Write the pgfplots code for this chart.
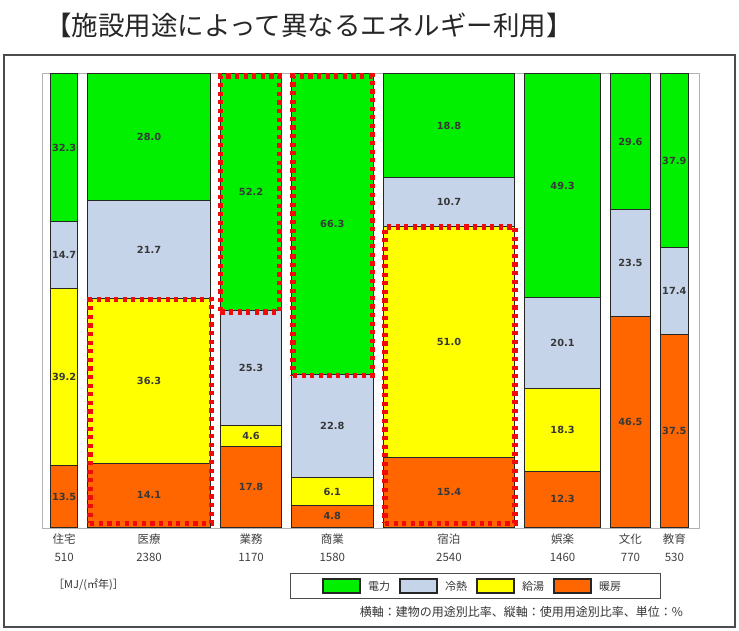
\documentclass[border=0pt]{standalone}
\usepackage{fontspec}
\setmainfont{Noto Sans CJK JP}
\newfontfamily\lblfont{DejaVu Sans}
\usepackage{pgfplots}
\pgfplotsset{compat=1.18}
\definecolor{cgreen}{RGB}{0,240,0}
\definecolor{cblue}{RGB}{198,212,234}
\definecolor{cyellow}{RGB}{255,255,0}
\definecolor{corange}{RGB}{255,102,0}
\definecolor{cred}{RGB}{240,10,10}
\newcommand{\seg}[5]{\addplot[fill=#1, draw=black!85, line width=1pt] coordinates {(#2,#4) (#3,#4) (#3,#5) (#2,#5)} -- cycle;}
\newcommand{\hl}[4]{\addplot[draw=cred, line width=5.5pt, line cap=butt, dash pattern=on 4.2pt off 4.4pt] coordinates {(#1,#3) (#2,#3) (#2,#4) (#1,#4)} -- cycle;}
\begin{document}
\begin{tikzpicture}[x=1pt,y=1pt]
\useasboundingbox (0,0) rectangle (739,-630);
\draw[gray!60!black, line width=1.3pt] (4,-55) rectangle (735,-627);
\node[font=\fontsize{26.5}{30}\selectfont, text=black!85] at (309,-25) {【施設用途によって異なるエネルギー利用】};
\begin{axis}[
  at={(42pt,-528pt)}, anchor=south west,
  scale only axis, width=657pt, height=455pt,
  xmin=-174, xmax=12553, ymin=-0.2, ymax=100.2,
  axis line style={draw=gray!60, line width=0.8pt},
  major tick length=0pt, ytick=\empty,
  scaled x ticks=false,
  xtick={255,1900,3875,5450,7710,9910,11225,12075},
  xticklabels={{住宅\\510},{医療\\2380},{業務\\1170},{商業\\1580},{宿泊\\2540},{娯楽\\1460},{文化\\770},{教育\\530}},
  xticklabel style={align=center, font=\fontsize{11.5}{18}\selectfont, text=black!75, yshift=-2pt},
  clip=false,
]
% 住宅
\seg{corange}{0}{510}{0}{13.5}
\seg{cyellow}{0}{510}{13.5}{52.7}
\seg{cblue}{0}{510}{52.7}{67.4}
\seg{cgreen}{0}{510}{67.4}{100}
% 医療
\seg{corange}{710}{3090}{0}{14.1}
\seg{cyellow}{710}{3090}{14.1}{50.4}
\seg{cblue}{710}{3090}{50.4}{72.1}
\seg{cgreen}{710}{3090}{72.1}{100}
% 業務
\seg{corange}{3290}{4460}{0}{17.8}
\seg{cyellow}{3290}{4460}{17.8}{22.4}
\seg{cblue}{3290}{4460}{22.4}{47.7}
\seg{cgreen}{3290}{4460}{47.7}{100}
% 商業
\seg{corange}{4660}{6240}{0}{4.8}
\seg{cyellow}{4660}{6240}{4.8}{10.9}
\seg{cblue}{4660}{6240}{10.9}{33.7}
\seg{cgreen}{4660}{6240}{33.7}{100}
% 宿泊
\seg{corange}{6440}{8980}{0}{15.4}
\seg{cyellow}{6440}{8980}{15.4}{66.4}
\seg{cblue}{6440}{8980}{66.4}{77.1}
\seg{cgreen}{6440}{8980}{77.1}{100}
% 娯楽
\seg{corange}{9180}{10640}{0}{12.3}
\seg{cyellow}{9180}{10640}{12.3}{30.6}
\seg{cblue}{9180}{10640}{30.6}{50.7}
\seg{cgreen}{9180}{10640}{50.7}{100}
% 文化
\seg{corange}{10840}{11610}{0}{46.5}
\seg{cblue}{10840}{11610}{46.5}{70.0}
\seg{cgreen}{10840}{11610}{70.0}{100}
% 教育
\seg{corange}{11810}{12340}{0}{42.4}
\seg{cblue}{11810}{12340}{42.4}{61.8}
\seg{cgreen}{11810}{12340}{61.8}{100}
% highlights
\hl{760}{3110}{0.8}{50.2}
\hl{3280}{4430}{47.5}{99.5}
\hl{4690}{6230}{33.5}{99.5}
\hl{6470}{8990}{0.8}{66.2}
% labels
\addplot[only marks, mark=none, nodes near coords, point meta=explicit symbolic,
  nodes near coords style={anchor=center, font=\lblfont\bfseries\fontsize{9.8}{11}\selectfont, text=black!78}]
  table[meta=lab, row sep=\\] {
x y lab\\
255 6.75 13.5\\ 255 33.1 39.2\\ 255 60.05 14.7\\ 255 83.7 32.3\\
1900 7.05 14.1\\ 1900 32.25 36.3\\ 1900 61.25 21.7\\ 1900 86.05 28.0\\
3875 8.9 17.8\\ 3875 20.1 4.6\\ 3875 35.05 25.3\\ 3875 73.85 52.2\\
5450 2.4 4.8\\ 5450 7.85 6.1\\ 5450 22.3 22.8\\ 5450 66.85 66.3\\
7710 7.7 15.4\\ 7710 40.9 51.0\\ 7710 71.75 10.7\\ 7710 88.55 18.8\\
9910 6.15 12.3\\ 9910 21.45 18.3\\ 9910 40.65 20.1\\ 9910 75.35 49.3\\
11225 23.25 46.5\\ 11225 58.25 23.5\\ 11225 85 29.6\\
12075 21.2 37.5\\ 12075 52.1 17.4\\ 12075 80.9 37.9\\
};
\end{axis}
% legend
\draw[gray!60!black, line width=1pt] (290,-573) rectangle (660,-598);
\foreach \c/\t [count=\i from 0] in {cgreen/電力, cblue/冷熱, cyellow/給湯, corange/暖房}{
  \draw[fill=\c, draw=black!85, line width=1.2pt] (323+77*\i,-579) rectangle (360+77*\i,-593);
  \node[anchor=west, font=\fontsize{11}{13}\selectfont, text=black!80, inner sep=0pt] at (368+77*\i,-586) {\t};
}
\node[anchor=west, font=\fontsize{11}{13}\selectfont, text=black!80, inner sep=0pt] at (53,-585) {［MJ/(㎡年)］};
\node[anchor=east, font=\fontsize{12}{14}\selectfont, text=black!80, inner sep=0pt] at (683,-612) {横軸：建物の用途別比率、縦軸：使用用途別比率、単位：\%};
\end{tikzpicture}
\end{document}
